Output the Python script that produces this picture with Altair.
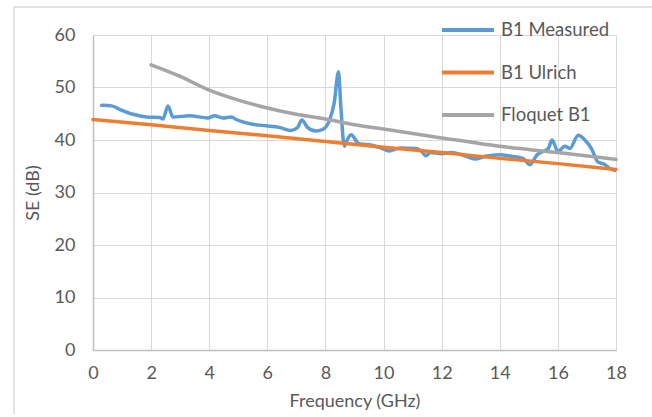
import altair as alt
import pandas as pd

# B1 Measured
meas_f = [0.3, 0.64, 0.93, 1.38, 1.84, 2.3, 2.41, 2.58, 2.75, 3.33, 3.95, 4.18, 4.47, 4.76, 4.93,
          5.5, 5.95, 6.41, 6.81, 7.04, 7.19, 7.38, 7.67, 7.9, 8.12, 8.3, 8.45, 8.53, 8.65, 8.75,
          8.88, 9.15, 9.6, 9.95, 10.18, 10.58, 11.1, 11.3, 11.46, 11.6, 12.0, 12.35, 12.7,
          13.15, 13.5, 14.0, 14.4, 14.8, 15.04, 15.27, 15.67, 15.8, 16.0, 16.24, 16.41, 16.7,
          16.93, 17.15, 17.38, 17.6, 17.78, 17.95]
meas_se = [46.6, 46.5, 45.8, 44.9, 44.4, 44.3, 44.0, 46.5, 44.4, 44.6, 44.2, 44.6, 44.2, 44.4, 43.9,
           43.0, 42.7, 42.4, 41.8, 42.4, 43.8, 42.4, 41.7, 42.0, 43.5, 47.0, 53.0, 46.3, 38.8, 40.0,
           41.0, 39.3, 39.0, 38.4, 37.9, 38.5, 38.4, 37.9, 37.0, 37.6, 37.4, 37.6, 37.2,
           36.4, 36.9, 37.2, 36.9, 36.5, 35.3, 37.1, 38.4, 40.0, 37.8, 38.8, 38.4, 40.9,
           40.0, 38.4, 35.8, 35.4, 34.6, 34.2]

# B1 Ulrich
ulr_f = [0, 2, 4, 6, 8, 10, 12, 14, 16, 18]
ulr_se = [43.9, 42.9, 41.8, 40.8, 39.7, 38.6, 37.6, 36.5, 35.5, 34.4]

# Floquet B1
flo_f = [2, 3, 4, 5, 6, 7, 8, 9, 10, 12, 14, 16, 18]
flo_se = [54.3, 52.1, 49.5, 47.6, 46.1, 44.9, 44.0, 42.9, 42.1, 40.4, 38.8, 37.6, 36.3]

series = ["B1 Measured", "B1 Ulrich", "Floquet B1"]
colors = ["#5B9BD5", "#ED7D31", "#A5A5A5"]

df_m = pd.DataFrame({"f": meas_f, "se": meas_se, "s": series[0]})
df_u = pd.DataFrame({"f": ulr_f, "se": ulr_se, "s": series[1]})
df_g = pd.DataFrame({"f": flo_f, "se": flo_se, "s": series[2]})

FONT = "Lato"
TXT = "#595959"

x_enc = alt.X("f:Q", title="Frequency (GHz)",
              scale=alt.Scale(domain=[0, 18], nice=False),
              axis=alt.Axis(values=list(range(0, 19, 2)), labelOverlap=False, labelFlush=False))
y_enc = alt.Y("se:Q", title="SE (dB)",
              scale=alt.Scale(domain=[0, 60], nice=False),
              axis=alt.Axis(values=list(range(0, 61, 10)), labelOverlap=False, labelFlush=False))
color_enc = alt.Color("s:N", title=None,
                      scale=alt.Scale(domain=series, range=colors),
                      legend=alt.Legend(orient="none", legendX=347, legendY=-33,
                                        symbolType="stroke", symbolSize=2704,
                                        symbolStrokeWidth=4, labelFontSize=18.5,
                                        labelColor=TXT, labelFont=FONT,
                                        rowPadding=4.5, labelOffset=5))

def line(df, interp):
    return alt.Chart(df).mark_line(strokeWidth=3.5, interpolate=interp, strokeCap="round",
                                   strokeJoin="round").encode(x=x_enc, y=y_enc, color=color_enc)

frame_left = alt.Chart(pd.DataFrame({"a": [0]})).mark_rule(
    stroke="#D9D9D9", strokeWidth=1.5
).encode(x=alt.value(-79), y=alt.value(-28), y2=alt.value(400))
frame_right = alt.Chart(pd.DataFrame({"a": [0]})).mark_rule(
    stroke="#D9D9D9", strokeWidth=1.5
).encode(x=alt.value(567), y=alt.value(-28), y2=alt.value(400))
frame_top = alt.Chart(pd.DataFrame({"a": [0]})).mark_rule(
    stroke="#D9D9D9", strokeWidth=1.5
).encode(x=alt.value(-79), x2=alt.value(567), y=alt.value(-28))

chart = alt.layer(
    frame_left, frame_right, frame_top,
    line(df_m, "monotone"),
    line(df_u, "linear"),
    line(df_g, "monotone"),
).properties(
    width=523, height=315,
    autosize=alt.AutoSizeParams(type="none"),
    padding={"left": 93, "top": 35, "right": 36, "bottom": 64},
).configure_view(
    stroke=None
).configure_axis(
    grid=True, gridColor="#D9D9D9", gridWidth=1,
    domain=False, ticks=False,
    labelFont=FONT, labelFontSize=18, labelColor=TXT,
    titleFont=FONT, titleFontSize=18, titleColor=TXT, titleFontWeight="normal",
).configure_axisX(
    labelPadding=14, titlePadding=10, domain=True, domainColor="#BFBFBF", domainWidth=1.5
).configure_axisY(
    labelPadding=18, titlePadding=12, domain=True, domainColor="#BFBFBF", domainWidth=1.5
)

chart.save("out.html", embed_options={"renderer": "svg", "actions": False})
